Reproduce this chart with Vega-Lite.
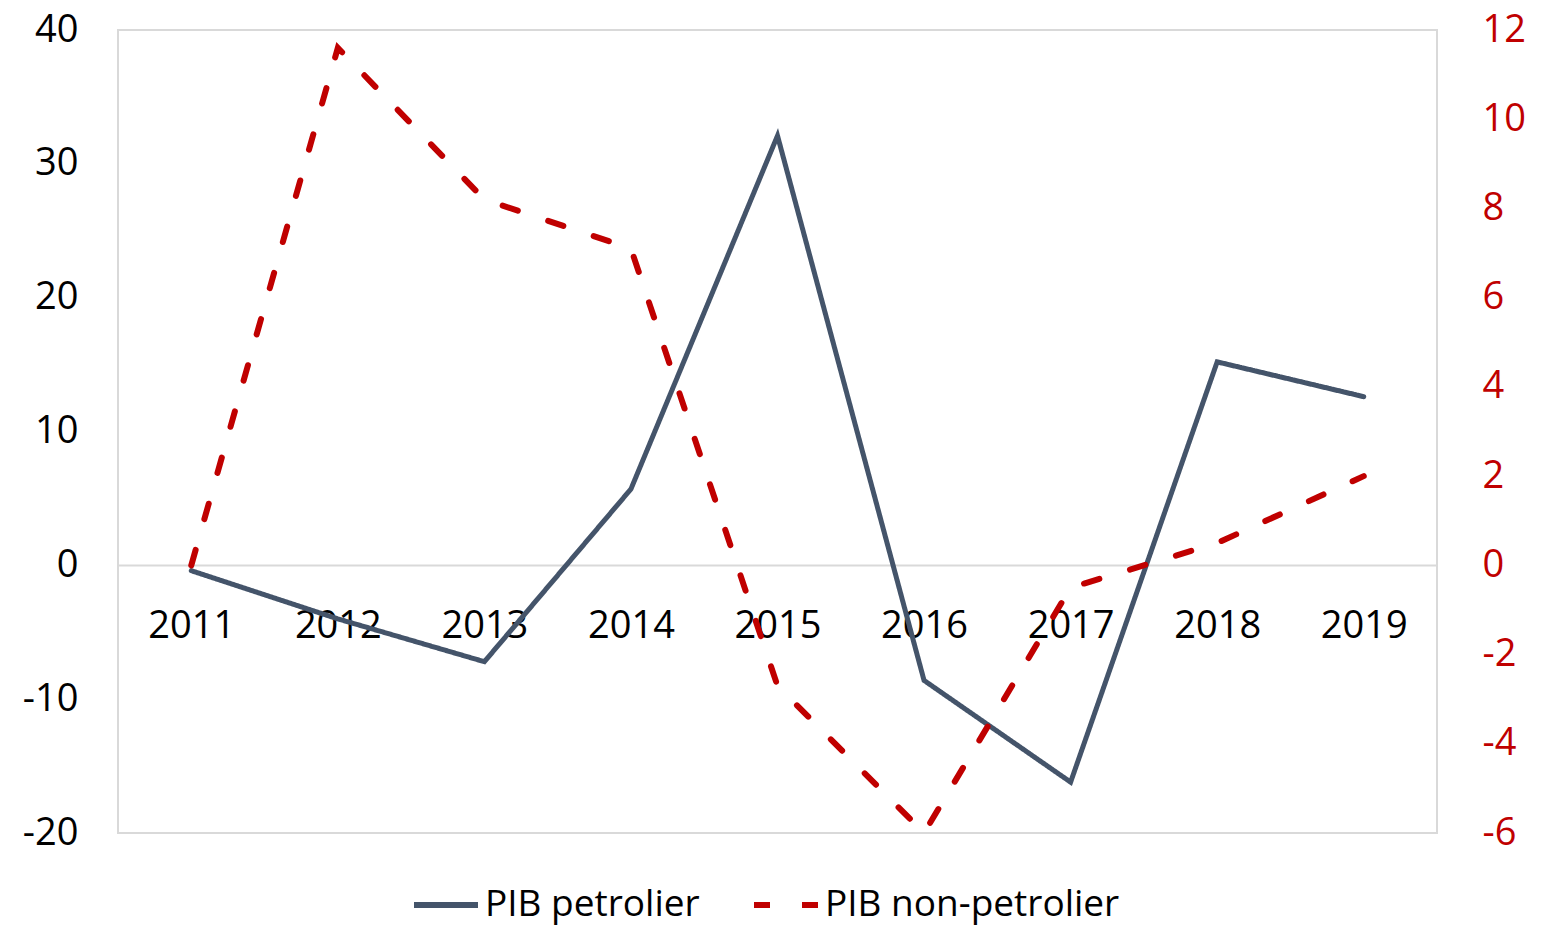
{
  "$schema": "https://vega.github.io/schema/vega-lite/v6.json",
  "width": 1319,
  "height": 803,
  "autosize": "none",
  "padding": {"left": 118, "top": 30, "right": 105, "bottom": 95},
  "background": "white",
  "config": {
    "font": "Open Sans",
    "view": {"stroke": "#D9D9D9", "strokeWidth": 2},
    "axis": {"grid": false, "ticks": false, "labelFontSize": 38, "labelColor": "#000000", "title": null}
  },
  "data": {
    "values": [
      {"year": "2011", "series": "PIB petrolier", "value": -0.4},
      {"year": "2012", "series": "PIB petrolier", "value": -4.0},
      {"year": "2013", "series": "PIB petrolier", "value": -7.2},
      {"year": "2014", "series": "PIB petrolier", "value": 5.7},
      {"year": "2015", "series": "PIB petrolier", "value": 32.1},
      {"year": "2016", "series": "PIB petrolier", "value": -8.6},
      {"year": "2017", "series": "PIB petrolier", "value": -16.2},
      {"year": "2018", "series": "PIB petrolier", "value": 15.2},
      {"year": "2019", "series": "PIB petrolier", "value": 12.6},
      {"year": "2011", "series": "PIB non-petrolier", "value": 0.0},
      {"year": "2012", "series": "PIB non-petrolier", "value": 11.6},
      {"year": "2013", "series": "PIB non-petrolier", "value": 8.2},
      {"year": "2014", "series": "PIB non-petrolier", "value": 7.1},
      {"year": "2015", "series": "PIB non-petrolier", "value": -2.7},
      {"year": "2016", "series": "PIB non-petrolier", "value": -6.0},
      {"year": "2017", "series": "PIB non-petrolier", "value": -0.5},
      {"year": "2018", "series": "PIB non-petrolier", "value": 0.5},
      {"year": "2019", "series": "PIB non-petrolier", "value": 2.0}
    ]
  },
  "encoding": {
    "x": {
      "field": "year",
      "type": "ordinal",
      "scale": {"type": "point", "padding": 0.5},
      "axis": {
        "orient": "bottom",
        "offset": -268,
        "labelAngle": 0,
        "domain": true,
        "domainColor": "#D9D9D9",
        "domainWidth": 2,
        "labelPadding": 42,
        "zindex": 0
      }
    },
    "color": {
      "field": "series",
      "type": "nominal",
      "scale": {"domain": ["PIB petrolier", "PIB non-petrolier"], "range": ["#44546A", "#C00000"]},
      "legend": {
        "title": null,
        "orient": "none",
        "direction": "horizontal",
        "legendX": 293,
        "legendY": 840,
        "symbolType": "stroke",
        "symbolSize": 4096,
        "symbolStrokeWidth": 6,
        "labelFontSize": 37,
        "labelLimit": 0,
        "labelColor": "#000000",
        "labelOffset": 4,
        "columnPadding": 42
      }
    },
    "strokeDash": {
      "field": "series",
      "type": "nominal",
      "scale": {"domain": ["PIB petrolier", "PIB non-petrolier"], "range": [[1, 0], [16, 32]]},
      "legend": {
        "title": null,
        "orient": "none",
        "direction": "horizontal",
        "legendX": 293,
        "legendY": 840,
        "symbolType": "stroke",
        "symbolSize": 4096,
        "symbolStrokeWidth": 6,
        "labelFontSize": 37,
        "labelLimit": 0,
        "labelColor": "#000000",
        "labelOffset": 4,
        "columnPadding": 42
      }
    }
  },
  "layer": [
    {
      "transform": [{"filter": "datum.series === 'PIB petrolier'"}],
      "mark": {"type": "line", "strokeWidth": 5, "strokeCap": "round", "strokeJoin": "miter"},
      "encoding": {
        "y": {
          "field": "value",
          "type": "quantitative",
          "scale": {"domain": [-20, 40], "nice": false, "zero": false},
          "axis": {"orient": "left", "values": [-20, -10, 0, 10, 20, 30, 40], "domain": false, "labelPadding": 40, "labelExpr": "toString(datum.value)"}
        }
      }
    },
    {
      "transform": [{"filter": "datum.series === 'PIB non-petrolier'"}],
      "mark": {"type": "line", "strokeWidth": 6, "strokeCap": "round", "strokeJoin": "miter"},
      "encoding": {
        "y": {
          "field": "value",
          "type": "quantitative",
          "scale": {"domain": [-6, 12], "nice": false, "zero": false},
          "axis": {"orient": "right", "values": [-6, -4, -2, 0, 2, 4, 6, 8, 10, 12], "domain": false, "labelPadding": 45, "labelColor": "#C00000", "labelExpr": "toString(datum.value)"}
        }
      }
    }
  ],
  "resolve": {"scale": {"y": "independent"}}
}
